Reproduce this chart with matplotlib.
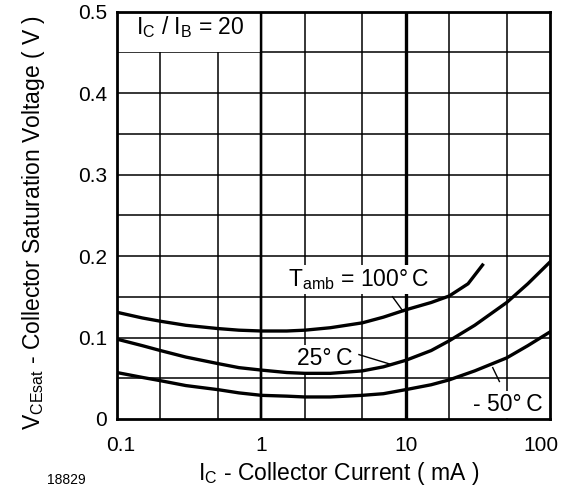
import numpy as np
import matplotlib.pyplot as plt
import matplotlib.transforms as mtrans
from matplotlib.patches import Rectangle

plt.rcParams['font.family'] = ['Liberation Sans', 'DejaVu Sans']
plt.rcParams['mathtext.fontset'] = 'custom'
plt.rcParams['mathtext.rm'] = 'Liberation Sans'
plt.rcParams['mathtext.it'] = 'Liberation Sans:italic'

# Collector current (mA) and VCEsat (V)
ic_100 = [0.1, 0.15, 0.2, 0.3, 0.5, 0.7, 1, 1.5, 2, 3, 5, 7, 10, 15, 20, 27, 34]
vce_100 = [0.131, 0.124, 0.120, 0.115, 0.111, 0.109, 0.108, 0.108, 0.109, 0.112,
           0.118, 0.125, 0.134, 0.143, 0.151, 0.166, 0.189]

ic_25 = [0.1, 0.15, 0.2, 0.3, 0.5, 0.7, 1, 1.5, 2, 3, 5, 7, 10, 15, 20, 30, 50, 70, 100]
vce_25 = [0.098, 0.090, 0.084, 0.076, 0.068, 0.063, 0.060, 0.057, 0.056, 0.056,
          0.059, 0.064, 0.072, 0.084, 0.096, 0.115, 0.143, 0.166, 0.193]

ic_m50 = [0.1, 0.15, 0.2, 0.3, 0.5, 0.7, 1, 1.5, 2, 3, 5, 7, 10, 15, 20, 30, 50, 70, 100]
vce_m50 = [0.057, 0.051, 0.047, 0.041, 0.036, 0.032, 0.029, 0.028, 0.027, 0.027,
           0.029, 0.031, 0.036, 0.042, 0.048, 0.059, 0.075, 0.090, 0.107]

x_ticks = [0.1, 1, 10, 100]
x_ticklabels = ['0.1', '1', '10', '100']
x_grid = [0.2, 0.5, 2, 5, 20, 50]
y_ticks = [0, 0.1, 0.2, 0.3, 0.4, 0.5]
y_ticklabels = ['0', '0.1', '0.2', '0.3', '0.4', '0.5']
y_grid = [0.05, 0.15, 0.25, 0.35, 0.45]

fig = plt.figure(figsize=(5.62, 4.9), dpi=100)
ax = fig.add_axes([0.208, 0.145, 0.771, 0.831])
ax.set_xscale('log')
ax.set_xlim(0.1, 100)
ax.set_ylim(0, 0.5)

# grid
for x in x_grid:
    ax.axvline(x, color='k', lw=1.1, zorder=1)
for y in y_grid + y_ticks[1:-1]:
    ax.axhline(y, color='k', lw=1.1, zorder=1)
ax.axvline(1, color='k', lw=1.7, zorder=1)
ax.axvline(10, color='k', lw=2.4, zorder=1)

# white box behind the IC/IB label
ax.add_patch(Rectangle((0.1, 0.45), 0.9, 0.05, facecolor='white',
                       edgecolor='none', zorder=2))
ax.axvline(1, color='k', lw=1.7, zorder=2)
ax.text(0.136, 0.472, r'I$_\mathregular{C}$ / I$_\mathregular{B}$ = 20',
        fontsize=16.5, va='baseline', zorder=3)

# curves
ax.plot(ic_100, vce_100, color='k', lw=2.4, zorder=4)
ax.plot(ic_25, vce_25, color='k', lw=2.4, zorder=4)
ax.plot(ic_m50, vce_m50, color='k', lw=2.4, zorder=4)

# curve labels and leaders
box = dict(facecolor='white', edgecolor='none', boxstyle='square,pad=0.1')
ax.text(1.54, 0.163, 'T$_\\mathregular{amb}$ = 100°\u2009C', fontsize=16.5,
        va='baseline', bbox=box, zorder=3)
ax.text(1.78, 0.066, '25°\u2009C', fontsize=16.5, va='baseline', bbox=box, zorder=3)
ax.text(29.0, 0.010, '- 50°\u2009C', fontsize=16.5, va='baseline', bbox=box, zorder=3)
ax.plot([8.1, 9.6], [0.150, 0.132], color='k', lw=1.0, zorder=4)
ax.plot([4.74, 7.9], [0.079, 0.067], color='k', lw=1.0, zorder=4)
ax.plot([40.0, 44.5], [0.063, 0.046], color='k', lw=1.0, zorder=4)

ax.set_xticks(x_ticks)
ax.set_xticklabels(x_ticklabels)
ax.set_xticks([], minor=True)
ax.set_yticks(y_ticks)
ax.set_yticklabels(y_ticklabels)
ax.tick_params(axis='both', length=0, labelsize=15)
ax.tick_params(axis='x', pad=12)
ax.tick_params(axis='y', pad=7)
for s in ax.spines.values():
    s.set_linewidth(2)
    s.set_zorder(5)

# last x tick label sits inside the figure edge
lbls = ax.get_xticklabels()
lbls[-1].set_transform(lbls[-1].get_transform() +
                       mtrans.ScaledTranslation(-9 / 100, 0, fig.dpi_scale_trans))
lbls[0].set_transform(lbls[0].get_transform() +
                      mtrans.ScaledTranslation(4 / 100, 0, fig.dpi_scale_trans))

fig.text(0.603, 0.02, r'I$_\mathregular{C}$ - Collector Current ( mA )',
         fontsize=16.5, ha='center', va='baseline')
fig.text(0.06, 0.545, r'V$_\mathregular{CEsat}$ - Collector Saturation Voltage ( V )',
         fontsize=16.5, rotation=90, ha='center', va='center')
fig.text(0.083, 0.012, '18829', fontsize=10, ha='left', va='baseline')

fig.savefig('out.png', dpi=100)
